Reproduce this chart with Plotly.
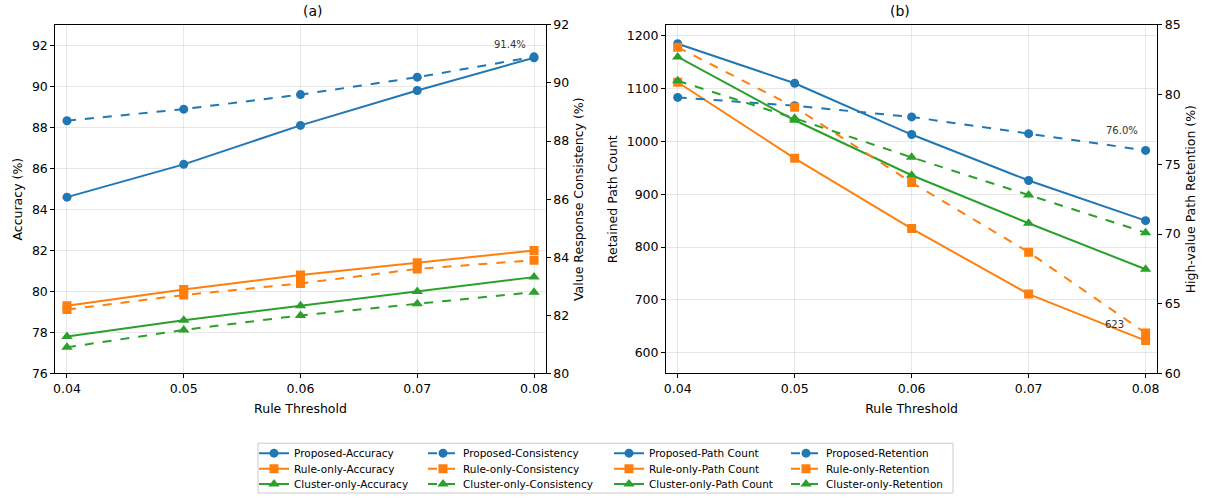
import plotly.graph_objects as go

thresholds = [0.04, 0.05, 0.06, 0.07, 0.08]
methods = ["Proposed", "Rule-only", "Cluster-only"]
colors = ["#1f77b4", "#ff7f0e", "#2ca02c"]
symbols = ["circle", "square", "triangle-up"]

accuracy = {
    "Proposed": [84.6, 86.2, 88.1, 89.8, 91.4],
    "Rule-only": [79.3, 80.1, 80.8, 81.4, 82.0],
    "Cluster-only": [77.8, 78.6, 79.3, 80.0, 80.7],
}
consistency = {
    "Proposed": [88.7, 89.1, 89.6, 90.2, 90.9],
    "Rule-only": [82.2, 82.7, 83.1, 83.6, 83.9],
    "Cluster-only": [80.9, 81.5, 82.0, 82.4, 82.8],
}
path_count = {
    "Proposed": [1185, 1110, 1013, 926, 850],
    "Rule-only": [1112, 968, 835, 711, 623],
    "Cluster-only": [1160, 1040, 936, 845, 758],
}
retention = {
    "Proposed": [79.8, 79.2, 78.4, 77.2, 76.0],
    "Rule-only": [83.4, 79.1, 73.7, 68.7, 62.9],
    "Cluster-only": [81.0, 78.3, 75.5, 72.8, 70.1],
}

W, H = 1207, 499
FONT = "DejaVu Sans"

def px_x(p):
    return p / W

def px_y(p):
    return 1 - p / H

fig = go.Figure()

# legend columns (text start - 40) and row centres, in pixels
leg_cols = [254, 423, 609, 786]
leg_rows = [455, 470.7, 486]
legfont = dict(family=FONT, size=10.5, color="black")

legend_layout = {}
counter = [0]

def add(series, label, xa, ya, dash, col):
    for r, (m, c, s) in enumerate(zip(methods, colors, symbols)):
        counter[0] += 1
        key = f"legend{counter[0] + 1}"
        legend_layout[key] = dict(x=px_x(leg_cols[col]), y=px_y(leg_rows[r]),
                                  xanchor="left", yanchor="middle", orientation="v",
                                  bgcolor="rgba(0,0,0,0)", borderwidth=0,
                                  font=legfont, itemwidth=30, visible=True)
        fig.add_trace(go.Scatter(
            x=thresholds, y=series[m], mode="lines+markers",
            name=f"{m}-{label}", xaxis=xa, yaxis=ya, legend=key, showlegend=True,
            line=dict(color=c, width=2, dash=dash),
            marker=dict(color=c, symbol=s, size=9 if s != "triangle-up" else 10),
        ))

add(accuracy, "Accuracy", "x", "y", "solid", 0)
add(consistency, "Consistency", "x", "y2", "dash", 1)
add(path_count, "Path Count", "x2", "y3", "solid", 2)
add(retention, "Retention", "x2", "y4", "dash", 3)

dom_a = [px_x(55.3), px_x(545.7)]
dom_b = [px_x(666), px_x(1157.3)]
dom_y = [px_y(375), px_y(25)]

tickfont = dict(family=FONT, size=12.5, color="black")
titlefont = dict(family=FONT, size=12.5, color="black")
grid = "rgba(0,0,0,0.09)"

xcommon = dict(range=[0.039, 0.081], tickvals=thresholds,
               ticktext=["0.04", "0.05", "0.06", "0.07", "0.08"],
               showline=True, linecolor="black", linewidth=1, mirror=True,
               ticks="outside", ticklen=4, tickcolor="black",
               showgrid=True, gridcolor=grid, gridwidth=1, zeroline=False,
               tickfont=tickfont, automargin=False,
               title=dict(text="Rule Threshold", font=titlefont, standoff=8))

yleft = dict(showline=True, linecolor="black", linewidth=1, ticks="outside", ticklen=4,
             tickcolor="black", showgrid=True, gridcolor=grid, zeroline=False,
             tickfont=tickfont, automargin=False)
yright = dict(side="right", showline=True, linecolor="black", linewidth=1, ticks="outside",
              ticklen=4, tickcolor="black", showgrid=False, zeroline=False,
              tickfont=tickfont, automargin=False)

fig.update_layout(
    width=W, height=H,
    showlegend=True,
    margin=dict(l=0, r=0, t=0, b=0),
    paper_bgcolor="white", plot_bgcolor="white",
    font=dict(family=FONT),
    xaxis=dict(domain=dom_a, anchor="y", **xcommon),
    xaxis2=dict(domain=dom_b, anchor="y3", **xcommon),
    yaxis=dict(domain=dom_y, anchor="x", range=[76, 93],
               tickvals=[76, 78, 80, 82, 84, 86, 88, 90, 92],
               title=dict(text="Accuracy (%)", font=titlefont, standoff=6), **yleft),
    yaxis2=dict(overlaying="y", anchor="x", range=[80, 92],
                tickvals=[80, 82, 84, 86, 88, 90, 92],
                title=dict(text="Value Response Consistency (%)", font=titlefont, standoff=6),
                **yright),
    yaxis3=dict(domain=dom_y, anchor="x2", range=[560.7, 1220.55],
                tickvals=[600, 700, 800, 900, 1000, 1100, 1200],
                title=dict(text="Retained Path Count", font=titlefont, standoff=6), **yleft),
    yaxis4=dict(overlaying="y3", anchor="x2", range=[60, 85],
                tickvals=[60, 65, 70, 75, 80, 85],
                title=dict(text="High-value Path Retention (%)", font=titlefont, standoff=6),
                **yright),
)
fig.update_layout(legend_layout)

fig.add_shape(type="rect", xref="paper", yref="paper",
              x0=px_x(258), x1=px_x(953), y0=px_y(495), y1=px_y(445),
              line=dict(color="#cccccc", width=1), fillcolor="rgba(0,0,0,0)")

annfont = dict(family=FONT, size=10, color="#333333")
fig.add_annotation(x=0.08, y=accuracy["Proposed"][-1], xref="x", yref="y", text="91.4%",
                   showarrow=False, xshift=-24, yshift=13, font=annfont)
fig.add_annotation(x=0.08, y=retention["Proposed"][-1], xref="x2", yref="y4", text="76.0%",
                   showarrow=False, xshift=-24, yshift=20, font=annfont)
fig.add_annotation(x=0.08, y=path_count["Rule-only"][-1], xref="x2", yref="y3", text="623",
                   showarrow=False, xshift=-31, yshift=16, font=annfont)

titfont = dict(family=FONT, size=14, color="black")
fig.add_annotation(x=(dom_a[0] + dom_a[1]) / 2, y=px_y(11), xref="paper", yref="paper",
                   text="(a)", showarrow=False, yanchor="middle", font=titfont)
fig.add_annotation(x=(dom_b[0] + dom_b[1]) / 2, y=px_y(11), xref="paper", yref="paper",
                   text="(b)", showarrow=False, yanchor="middle", font=titfont)

fig.write_html("out.html", config={"displayModeBar": False},
               post_script="document.body.style.margin='0';")
